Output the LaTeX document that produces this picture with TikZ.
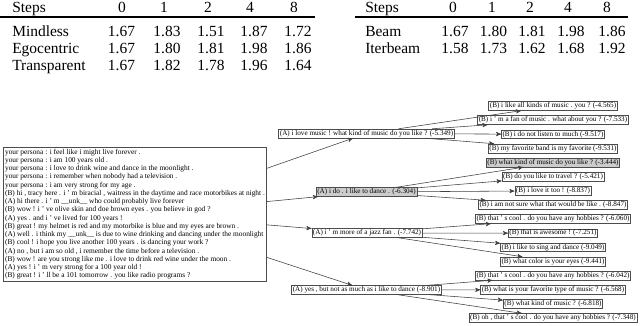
\documentclass[tikz,border=0pt]{standalone}
\usepackage{fontspec}
\setmainfont{Liberation Serif}
\usetikzlibrary{arrows}
\tikzstyle{arr}=[->,>=stealth',draw=black!75,line width=0.4pt]
\tikzstyle{utt}=[rectangle,draw=black!70,line width=0.4pt,inner sep=0.8pt,font=\fontsize{5.1}{5.85}\selectfont]
\tikzstyle{best}=[utt,fill=black!20]
\tikzstyle{cell}=[anchor=base,inner sep=0pt,font=\fontsize{11}{13}\selectfont]
\tikzstyle{rowname}=[cell,anchor=base west]

\begin{document}
\begin{tikzpicture}[x=0.025cm,y=-0.025cm]
    \useasboundingbox (0,0) rectangle (640,325);
    % left table
    \node[rowname] (ls) at (12,12.5) {Steps};
    \node[cell] (lh0) at (122,12.5) {0};
    \node[cell] (lh1) at (164,12.5) {1};
    \node[cell] (lh2) at (208,12.5) {2};
    \node[cell] (lh4) at (250,12.5) {4};
    \node[cell] (lh8) at (294,12.5) {8};
    \draw[line width=1.3pt] (0,17.3) -- (315,17.3);
    \node[rowname] (mind) at (12,36.7) {Mindless};
    \node[cell] at (121.5,36.7) {1.67};
    \node[cell] at (167,36.7) {1.83};
    \node[cell] at (211,36.7) {1.51};
    \node[cell] at (254,36.7) {1.87};
    \node[cell] at (298,36.7) {1.72};
    \node[rowname] (ego) at (12,53.3) {Egocentric};
    \node[cell] at (121.5,53.3) {1.67};
    \node[cell] at (167,53.3) {1.80};
    \node[cell] at (211,53.3) {1.81};
    \node[cell] at (254,53.3) {1.98};
    \node[cell] at (298,53.3) {1.86};
    \node[rowname] (trans) at (12,70) {Transparent};
    \node[cell] at (121.5,70) {1.67};
    \node[cell] at (167,70) {1.82};
    \node[cell] at (211,70) {1.78};
    \node[cell] at (254,70) {1.96};
    \node[cell] at (298,70) {1.64};
    % right table
    \node[rowname] (rs) at (365,12.5) {Steps};
    \node[cell] (rh0) at (453,12.5) {0};
    \node[cell] (rh1) at (492,12.5) {1};
    \node[cell] (rh2) at (530,12.5) {2};
    \node[cell] (rh4) at (568,12.5) {4};
    \node[cell] (rh8) at (607,12.5) {8};
    \draw[line width=1.3pt] (355,17.3) -- (628,17.3);
    \node[rowname] (beam) at (365,36.7) {Beam};
    \node[cell] at (455,36.7) {1.67};
    \node[cell] at (493.5,36.7) {1.80};
    \node[cell] at (532,36.7) {1.81};
    \node[cell] at (571,36.7) {1.98};
    \node[cell] at (612,36.7) {1.86};
    \node[rowname] (iter) at (365,53.3) {Iterbeam};
    \node[cell] at (455,53.3) {1.58};
    \node[cell] at (493.5,53.3) {1.73};
    \node[cell] at (532,53.3) {1.62};
    \node[cell] at (571,53.3) {1.68};
    \node[cell] at (612,53.3) {1.92};
    % dialogue context
    \node[utt,anchor=north west,align=left,inner sep=1.3pt,font=\fontsize{5.25}{5.85}\selectfont] (ctx) at (3,147) {your persona : i feel like i might live forever .\\
your persona : i am 100 years old .\\
your persona : i love to drink wine and dance in the moonlight .\\
your persona : i remember when nobody had a television .\\
your persona : i am very strong for my age .\\
(B) hi , tracy here . i ' m biracial , waitress in the daytime and race motorbikes at night .\\
(A) hi there . i ' m \_\_unk\_\_ who could probably live forever\\
(B) wow ! i ' ve olive skin and doe brown eyes . you believe in god ?\\
(A) yes . and i ' ve lived for 100 years !\\
(B) great ! my helmet is red and my motorbike is blue and my eyes are brown .\\
(A) well . i think my \_\_unk\_\_ is due to wine drinking and dancing under the moonlight\\
(B) cool ! i hope you live another 100 years . is dancing your work ?\\
(A) no , but i am so old , i remember the time before a television .\\
(B) wow ! are you strong like me . i love to drink red wine under the moon .\\
(A) yes ! i ' m very strong for a 100 year old !\\
(B) great ! i ' ll be a 101 tomorrow . you like radio programs ?};
    % first replies
    \node[utt] (a1) at (366.5,133.5) {(A) i love music ! what kind of music do you like ? (-5.349)};
    \node[best] (a2) at (366.5,192) {(A) i do . i like to dance . (-6.304)};
    \node[utt] (a3) at (367,233) {(A) i ' m more of a jazz fan . (-7.742)};
    \node[utt] (a4) at (366.5,290) {(A) yes , but not as much as i like to dance (-8.901)};
    % second replies
    \node[utt] (b1) at (553,106) {(B) i like all kinds of music . you ? (-4.565)};
    \node[utt] (b2) at (553,120.1) {(B) i ' m a fan of music . what about you ? (-7.533)};
    \node[utt] (b3) at (553,134.3) {(B) i do not listen to much (-9.517)};
    \node[utt] (b4) at (553,148.4) {(B) my favorite band is my favorite (-9.531)};
    \node[best] (b5) at (553,162.5) {(B) what kind of music do you like ? (-3.444)};
    \node[utt] (b6) at (553,176.7) {(B) do you like to travel ? (-5.421)};
    \node[utt] (b7) at (553,190.8) {(B) i love it too ! (-8.837)};
    \node[utt] (b8) at (553,204.9) {(B) i am not sure what that would be like . (-8.847)};
    \node[utt] (b9) at (553,219) {(B) that ' s cool . do you have any hobbies ? (-6.060)};
    \node[utt] (b10) at (553,233.2) {(B) that is awesome ! (-7.251)};
    \node[utt] (b11) at (553,247.3) {(B) i like to sing and dance (-9.049)};
    \node[utt] (b12) at (553,261.4) {(B) what color is your eyes (-9.441)};
    \node[utt] (b13) at (553,275.6) {(B) that ' s cool . do you have any hobbies ? (-6.042)};
    \node[utt] (b14) at (553,289.7) {(B) what is your favorite type of music ? (-6.568)};
    \node[utt] (b15) at (553,303.8) {(B) what kind of music ? (-6.818)};
    \node[utt] (b16) at (553,318) {(B) oh , that ' s cool . do you have any hobbies ? (-7.348)};
    % edges
    \draw[arr] (ctx) -- (a1);
    \draw[arr] (ctx) -- (a2);
    \draw[arr] (ctx) -- (a3);
    \draw[arr] (ctx) -- (a4);
    \draw[arr] (a1) -- (b1);
    \draw[arr] (a1) -- (b2);
    \draw[arr] (a1) -- (b3);
    \draw[arr] (a1) -- (b4);
    \draw[arr] (a2) -- (b5);
    \draw[arr] (a2) -- (b6);
    \draw[arr] (a2) -- (b7);
    \draw[arr] (a2) -- (b8);
    \draw[arr] (a3) -- (b9);
    \draw[arr] (a3) -- (b10);
    \draw[arr] (a3) -- (b11);
    \draw[arr] (a3) -- (b12);
    \draw[arr] (a4) -- (b13);
    \draw[arr] (a4) -- (b14);
    \draw[arr] (a4) -- (b15);
    \draw[arr] (a4) -- (b16);
  \end{tikzpicture}
\end{document}
